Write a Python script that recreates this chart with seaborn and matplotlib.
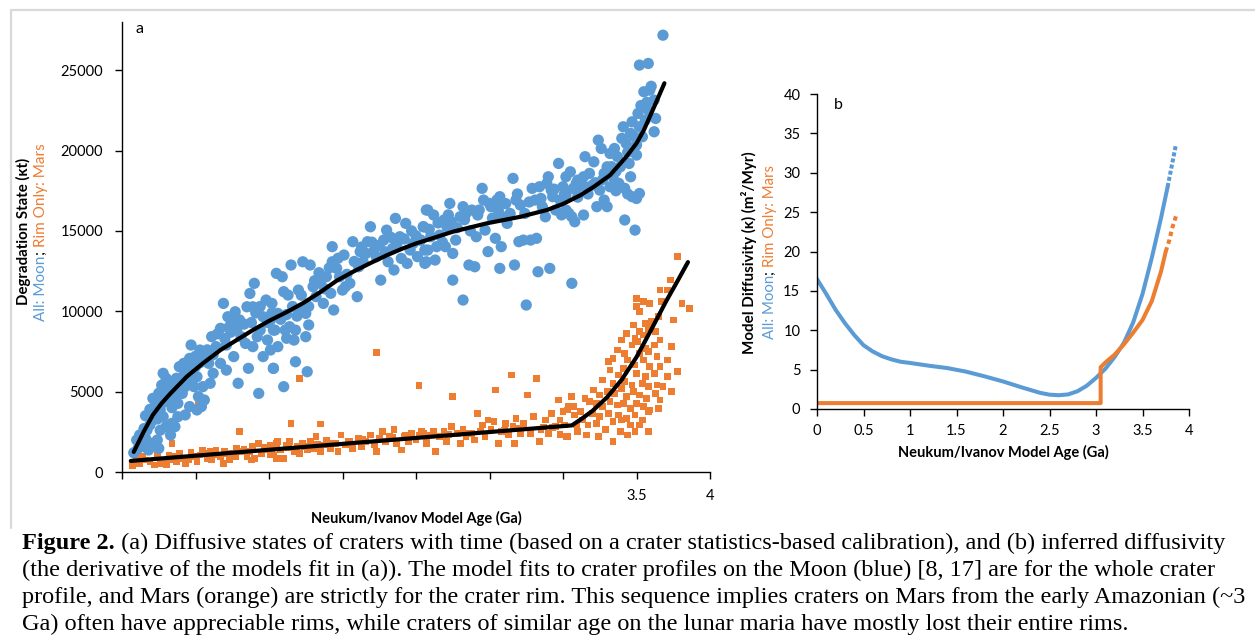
import numpy as np
import matplotlib
matplotlib.use("Agg")
import matplotlib.pyplot as plt
from matplotlib.lines import Line2D
import seaborn as sns

# ---------------- data ----------------
moon_age = [0.08, 0.11, 0.10, 0.13, 0.16, 0.18, 0.20, 0.24, 0.25, 0.17, 0.19, 0.21, 0.22, 0.21, 0.26, 0.28, 0.30, 0.33, 0.34, 0.27,
            0.29, 0.32, 0.33, 0.35, 0.37, 0.28, 0.30, 0.36, 0.38, 0.41, 0.43, 0.45, 0.39, 0.42, 0.44, 0.46, 0.50, 0.51, 0.49, 0.52,
            0.55, 0.56, 0.51, 0.54, 0.47, 0.53, 0.56, 0.59, 0.61, 0.64, 0.67, 0.69, 0.71, 0.73, 0.72, 0.77, 0.78, 0.80, 0.79, 0.81,
            0.84, 0.86, 0.85, 0.87, 0.89, 0.90, 0.93, 0.94, 0.96, 0.98, 0.99, 1.01, 1.03, 1.04, 1.05, 1.06, 0.96, 0.89, 0.92, 0.76,
            0.67, 0.62, 0.60, 0.71, 0.43, 0.46, 0.38, 0.36,
            0.23, 0.25, 0.27, 0.24, 0.31, 0.34, 0.40, 0.42, 0.38, 0.47, 0.50, 0.53, 0.58, 0.62, 0.65, 0.70, 0.74, 0.76, 0.83, 0.88,
            0.91, 0.94, 0.99, 1.02, 0.15, 0.12, 0.19, 0.16, 0.14, 0.26,
            1.02, 1.03, 1.01, 1.06, 1.03, 1.10, 1.11, 1.12, 1.14, 1.17, 1.18, 1.18, 1.26, 1.27, 1.25, 1.09, 1.10, 1.13, 1.15, 1.20,
            1.21, 1.23, 1.28, 1.25, 1.30, 1.32, 1.35, 1.37, 1.39, 1.42, 1.44, 1.43, 1.43, 1.46, 1.48, 1.51, 1.50, 1.52, 1.55, 1.57,
            1.60, 1.61, 1.62, 1.64, 1.67, 1.69, 1.71, 1.73, 1.76, 1.78, 1.80, 1.81, 1.84, 1.85, 1.86, 1.89, 1.90, 1.93, 1.94, 1.96,
            1.98, 2.01, 2.03, 2.05, 2.06, 2.07, 2.08,
            1.08, 1.12, 1.16, 1.19, 1.22, 1.27, 1.31, 1.34, 1.38, 1.41, 1.47, 1.53, 1.58, 1.63, 1.66, 1.70, 1.75, 1.79, 1.83, 1.87,
            1.92, 1.97, 2.00,
            2.03, 2.05, 2.06, 2.07, 2.08, 2.10, 2.12, 2.13, 2.14, 2.16, 2.19, 2.20, 2.21, 2.23, 2.24, 2.25, 2.27, 2.25, 2.30, 2.32,
            2.32, 2.34, 2.36, 2.38, 2.40, 2.41, 2.42, 2.45, 2.46, 2.47, 2.49, 2.50, 2.51, 2.54, 2.55, 2.57, 2.58, 2.57, 2.59, 2.62,
            2.64, 2.66, 2.67, 2.68, 2.70, 2.71, 2.73, 2.74, 2.75, 2.78, 2.79, 2.81, 2.82, 2.83, 2.84, 2.85, 2.88, 2.89, 2.90, 2.91,
            2.92, 2.93, 2.95, 2.97, 2.98, 3.00, 3.02, 3.04, 3.05, 3.06, 3.07, 3.08, 3.09, 3.10,
            2.09, 2.15, 2.18, 2.22, 2.28, 2.33, 2.37, 2.43, 2.52, 2.56, 2.61, 2.69, 2.77, 2.86, 2.94, 3.01, 2.99,
            3.68, 3.52, 3.58, 3.55, 3.59, 3.62, 3.58, 3.63, 3.51, 3.56, 3.52, 3.47, 3.41, 3.40, 3.46, 3.50, 3.54, 3.62, 3.43, 3.35,
            3.24, 3.26, 3.32, 3.37, 3.50, 3.45, 3.15, 3.21, 3.30, 3.39, 3.46, 3.34, 3.28, 3.18, 3.14, 3.02, 3.09, 3.15, 3.20, 3.25,
            3.32, 3.38, 3.42, 3.47, 3.52, 3.50, 3.28, 3.23, 3.30, 3.02, 3.06, 3.14, 3.42, 3.49,
            3.10, 3.17, 3.22, 3.27, 3.33, 3.36, 3.44, 3.48, 3.53, 3.57, 3.60, 3.44, 3.36]
moon_kt = [1200, 1470, 1990, 1790, 2100, 1370, 1790, 1990, 1470, 2610, 2930, 3240, 3750, 4580, 3860, 3440, 2820, 2300, 3030, 4270,
           4690, 5100, 5620, 5310, 5830, 6140, 5830, 4690, 4270, 4890, 5310, 5720, 6550, 6760, 6240, 7070, 6550, 5930, 5310, 4690,
           5310, 4480, 3860, 4070, 7900, 7590, 7180, 6760, 8420, 7800, 8940, 10490, 7900, 9040, 9660, 9970, 8830, 9460, 5520, 8420,
           8000, 6450, 10280, 11110, 10280, 11740, 4890, 8830, 9660, 10700, 8210, 9460, 6450, 8830, 12360, 9870, 7180, 7800, 8420, 7180,
           6760, 6140, 5520, 6340, 3550, 4070, 3440, 2820,
           4200, 4900, 5400, 3300, 4400, 4000, 5600, 6000, 5200, 6400, 7200, 6800, 7600, 7300, 8600, 8300, 8700, 9300, 9200, 9300,
           9900, 10300, 9300, 9900, 2700, 2300, 3900, 3500, 1600, 2600,
           10490, 8830, 7590, 7800, 6450, 5310, 8830, 8320, 9040, 8210, 8830, 6860, 6240, 9150, 8420, 12150, 11220, 11010, 12880, 11320,
           10080, 13080, 12880, 9870, 11530, 10910, 11740, 10490, 12150, 11120, 10080, 14020, 13080, 12670, 12150, 13500, 11320, 11530, 11740, 14330,
           10910, 12770, 13710, 13080, 14330, 15260, 13710, 13400, 11940, 14430, 15050, 13080, 13910, 12570, 15780, 14640, 13290, 15470, 12980, 13810,
           14220, 13400, 14430, 15260, 12980, 16300, 13810,
           9500, 9800, 10300, 9700, 11000, 10300, 11900, 12400, 11400, 12700, 13300, 12300, 13100, 14000, 13600, 14300, 14100, 13700, 14600, 14200,
           14500, 15000, 14700,
           14430, 15260, 13810, 13080, 16300, 14640, 15990, 13190, 14020, 14740, 15680, 14020, 15260, 16710, 15570, 13600, 14430, 11940, 15880, 16510,
           10700, 16090, 12880, 16300, 12770, 14640, 15990, 17650, 16920, 15050, 13710, 16710, 16510, 14540, 16920, 17130, 14020, 12670, 15880, 15470,
           16090, 18270, 12880, 16920, 14330, 16610, 14430, 16090, 10390, 14430, 17650, 16920, 14540, 12460, 17750, 17020, 15880, 17960, 18370, 12670,
           17540, 17130, 16300, 19200, 16920, 17750, 16300, 16090, 18680, 11740, 17650, 15570, 17540, 18160,
           15100, 15500, 14300, 16000, 15200, 15700, 15000, 16300, 15800, 16300, 16700, 17300, 16800, 16500, 17600, 17300, 16000,
           27180, 25320, 25420, 23660, 23760, 23140, 22520, 22000, 22310, 21900, 21480, 21790, 21480, 20760, 21070, 20340, 20860, 21170, 20440, 20130,
           20650, 20130, 19820, 19620, 19720, 19200, 19620, 19300, 18990, 18990, 18370, 18370, 18580, 18580, 18370, 18370, 17960, 17750, 17850, 17540,
           17750, 17960, 17650, 17130, 17330, 17020, 16920, 16510, 16510, 17230, 15880, 15990, 15680, 15050,
           17100, 17300, 18000, 18200, 19000, 18700, 19900, 20900, 22800, 23000, 24000, 17300, 17500]

mars_age = [0.07, 0.16, 0.22, 0.26, 0.30, 0.33, 0.36, 0.39, 0.43, 0.45, 0.49, 0.51, 0.55, 0.58, 0.61, 0.64, 0.67, 0.69, 0.71, 0.73,
            0.77, 0.78, 0.81, 0.85, 0.87, 0.89, 0.90, 0.93, 0.95, 0.98, 1.01, 1.03, 1.05, 1.06, 0.52, 0.80, 0.34, 0.12, 0.19, 0.28,
            0.37, 0.41, 0.53, 0.60, 0.75, 0.88, 1.02,
            0.10, 0.14, 0.24, 0.32, 0.47, 0.57, 0.63, 0.70, 0.83, 0.97,
            1.01, 1.03, 1.05, 1.08, 1.10, 1.12, 1.14, 1.17, 1.19, 1.21, 1.23, 1.26, 1.28, 1.30, 1.32, 1.35, 1.37, 1.39, 1.42, 1.45,
            1.47, 1.49, 1.52, 1.55, 1.57, 1.61, 1.63, 1.66, 1.69, 1.72, 1.73, 1.77, 1.79, 1.82, 1.85, 1.87, 1.90, 1.93, 1.95, 1.97,
            2.00, 2.04, 2.07, 1.21, 1.73, 2.02, 1.15, 1.35,
            1.13, 1.24, 1.33, 1.44, 1.54, 1.64, 1.75, 1.84, 1.92, 2.02,
            2.05, 2.07, 2.12, 2.13, 2.16, 2.19, 2.21, 2.24, 2.25, 2.28, 2.30, 2.32, 2.34, 2.38, 2.40, 2.42, 2.45, 2.47, 2.49, 2.51,
            2.53, 2.54, 2.56, 2.58, 2.61, 2.63, 2.65, 2.66, 2.67, 2.68, 2.71, 2.73, 2.76, 2.78, 2.80, 2.82, 2.84, 2.85, 2.88, 2.90,
            2.92, 2.95, 2.97, 2.98, 3.00, 3.02, 3.04, 3.06, 3.08, 3.09,
            2.10, 2.22, 2.36, 2.44, 2.60, 2.70, 2.87, 2.93,
            3.78, 3.73, 3.66, 3.71, 3.55, 3.59, 3.50, 3.52, 3.67, 3.81, 3.86, 3.75, 3.65, 3.60, 3.58, 3.56, 3.52, 3.49, 3.47, 3.51,
            3.55, 3.63, 3.66, 3.62, 3.58, 3.56, 3.52, 3.74, 3.37, 3.42, 3.31, 3.34, 3.44, 3.49, 3.55, 3.59, 3.64, 3.66, 3.71, 3.78,
            3.32, 3.38, 3.41, 3.50, 3.56, 3.62, 3.71, 3.27, 3.34, 3.42, 3.47, 3.54, 3.58, 3.64, 3.68, 3.74, 3.21, 3.25, 3.30, 3.35,
            3.40, 3.43, 3.48, 3.52, 3.57, 3.63, 3.66, 3.06, 3.07, 3.15, 3.18, 3.23, 3.27, 3.32, 3.37, 3.41, 3.46, 3.50, 3.55, 3.59,
            3.65, 3.03, 3.12, 3.20, 3.25, 3.31, 3.38, 3.43, 3.49, 3.54, 3.58, 2.98, 3.01, 3.13, 3.17, 3.23, 3.34, 3.40, 3.46, 3.52,
            3.03, 3.10, 3.16, 3.24, 3.29, 3.34, 3.39, 3.44, 3.49, 3.58, 3.50, 3.48, 3.43, 3.40]
mars_kt = [380, 750, 440, 540, 440, 750, 960, 1160, 540, 750, 960, 650, 1370, 850, 750, 1370, 960, 540, 1160, 750,
           960, 1470, 1270, 960, 1270, 1580, 850, 1790, 1160, 1370, 1060, 1580, 850, 1890, 4380, 2510, 1790, 540, 650, 750,
           650, 850, 1060, 1270, 1160, 750, 1270,
           900, 1000, 1100, 1050, 1200, 1150, 1100, 1300, 1400, 1500,
           1680, 1060, 1790, 1370, 850, 1680, 1890, 1270, 1580, 1160, 1790, 1370, 1890, 1470, 2200, 1270, 1680, 1990, 1470, 1790,
           1270, 2300, 1680, 1890, 1470, 2100, 1580, 1890, 2300, 1680, 1270, 2510, 1890, 2200, 2620, 1790, 1370, 2300, 1890, 2410,
           1990, 2510, 2100, 5830, 7420, 5370, 3030, 2990,
           1500, 1600, 1700, 1800, 1900, 2000, 2100, 2150, 2200, 2250,
           2410, 1790, 2510, 1270, 2200, 2510, 1890, 2820, 4690, 2410, 1790, 2620, 2200, 2410, 1990, 3650, 2930, 2200, 3240, 2620,
           3130, 5100, 1790, 2510, 3030, 2310, 6040, 2820, 1790, 3340, 2410, 3030, 4790, 2410, 3450, 5830, 1890, 2620, 3240, 2410,
           3650, 2820, 4480, 2310, 3760, 2200, 4070, 4690, 3550, 2930,
           2300, 2350, 2400, 2550, 2600, 2700, 2800, 2750,
           13400, 11950, 11320, 11320, 10600, 10490, 10290, 9980, 10600, 10490, 10180, 9460, 9660, 9350, 8940, 9250, 8730, 8320, 7900, 8110,
           8530, 8730, 8210, 7900, 7490, 7690, 7380, 7800, 7590, 7380, 6870, 7070, 6970, 6660, 6970, 6560, 7180, 6560, 6970, 6240,
           6350, 6040, 6450, 6140, 5930, 6140, 5930, 5730, 5520, 5620, 5410, 5520, 5310, 5410, 5310, 5000, 5100, 4790, 5000, 4900,
           5210, 4690, 5000, 4790, 4590, 4900, 4480, 4690, 4070, 4590, 4380, 4270, 4070, 4380, 4170, 4270, 3960, 4270, 4070, 3860,
           3960, 3860, 3760, 3650, 3450, 3650, 3550, 3340, 3550, 3240, 3760, 3240, 2930, 3240, 2930, 3030, 3130, 3240, 2930, 2930,
           2200, 2510, 2300, 2200, 2620, 1890, 2510, 2300, 2510, 2510, 10800, 9150, 8630, 8210]

moon_fit_age = [0.08, 0.15, 0.21, 0.27, 0.33, 0.44, 0.55, 0.67, 0.78, 0.89, 1.00, 1.12, 1.23, 1.35, 1.46, 1.58, 1.69, 1.80,
                1.91, 2.00, 2.09, 2.25, 2.48, 2.71, 2.89, 3.00, 3.12, 3.21, 3.32, 3.43, 3.50, 3.55, 3.62, 3.69]
moon_fit_kt = [1250, 2550, 3550, 4280, 4890, 5930, 6760, 7590, 8210, 8830, 9400, 9950, 10500, 11200, 11900, 12500, 13000, 13480,
               13910, 14220, 14480, 14950, 15470, 15880, 16300, 16680, 17230, 17750, 18470, 19610, 20450, 21270, 22720, 24190]
mars_fit_age = [0.06, 3.06, 3.13, 3.20, 3.30, 3.40, 3.50, 3.60, 3.70, 3.78, 3.85]
mars_fit_kt = [690, 2900, 3330, 3800, 4650, 5750, 7150, 8850, 10600, 11900, 13060]

moon_kappa_age = [0, 0.1, 0.2, 0.3, 0.4, 0.5, 0.6, 0.7, 0.8, 0.9, 1.0, 1.2, 1.4, 1.6, 1.8, 2.0, 2.2, 2.4, 2.5, 2.6,
                  2.7, 2.8, 2.9, 3.0, 3.1, 3.2, 3.3, 3.4, 3.5, 3.6, 3.7, 3.77]
moon_kappa = [16.5, 14.6, 12.6, 10.9, 9.4, 8.1, 7.3, 6.7, 6.3, 6.0, 5.85, 5.5, 5.2, 4.75, 4.15, 3.5, 2.75, 2.05, 1.82, 1.75,
              1.85, 2.25, 2.95, 3.95, 5.1, 6.6, 8.4, 11.0, 14.6, 19.2, 24.3, 28.2]
moon_kappa_tail_age = [3.77, 3.80, 3.83, 3.86]
moon_kappa_tail = [28.2, 30.0, 31.8, 33.6]
mars_kappa_age = [0, 3.05, 3.05, 3.1, 3.2, 3.3, 3.4, 3.5, 3.6, 3.7, 3.75]
mars_kappa = [0.75, 0.75, 5.3, 5.9, 6.9, 8.2, 9.7, 11.3, 13.7, 17.5, 20.0]
mars_kappa_tail_age = [3.75, 3.79, 3.82, 3.86]
mars_kappa_tail = [20.0, 21.5, 23.0, 24.5]

a_xticks = [0, 0.5, 1, 1.5, 2, 2.5, 3, 3.5, 4]
a_xticklabels = ["", "", "", "", "", "", "", "3.5", "4"]
a_yticks = [0, 5000, 10000, 15000, 20000, 25000]
b_xticks = [0, 0.5, 1, 1.5, 2, 2.5, 3, 3.5, 4]
b_xticklabels = ["0", "0.5", "1", "1.5", "2", "2.5", "3", "3.5", "4"]
b_yticks = [0, 5, 10, 15, 20, 25, 30, 35, 40]

xlabel = "Neukum/Ivanov Model Age (Ga)"
a_ylabel1 = "Degradation State (\u03bat)"
b_ylabel1 = "Model Diffusivity (\u03ba) (m\u00b2/Myr)"
ylabel2_parts = ["All: Moon", "; ", "Rim Only: Mars"]

caption_bold = "Figure 2."
caption_lines = [
    " (a) Diffusive states of craters with time (based on a crater statistics-based calibration), and (b) inferred diffusivity",
    "(the derivative of the models fit in (a)). The model fits to crater profiles on the Moon (blue) [8, 17] are for the whole crater",
    "profile, and Mars (orange) are strictly for the crater rim. This sequence implies craters on Mars from the early Amazonian (~3",
    "Ga) often have appreciable rims, while craters of similar age on the lunar maria have mostly lost their entire rims.",
]

BLUE = "#5B9BD5"
ORANGE = "#ED7D31"

# ---------------- style ----------------
sns.set_theme(style="white")
plt.rcParams["font.family"] = ["Lato", "DejaVu Sans"]
plt.rcParams["axes.unicode_minus"] = False

W, H = 1255, 640
fig = plt.figure(figsize=(W / 100, H / 100), dpi=100)
fig.patch.set_facecolor("white")


def fx(px):
    return px / W


def fy(py):
    return 1 - py / H


# light grey frame of the figure image
fig.add_artist(Line2D([fx(11), fx(11)], [fy(10), fy(528)], color="#D9D9D9", lw=1.6))
fig.add_artist(Line2D([fx(11), fx(1255)], [fy(10), fy(10)], color="#D9D9D9", lw=1.6))

axa = fig.add_axes([fx(122), fy(472), fx(710) - fx(122), fy(22) - fy(472)])
axb = fig.add_axes([fx(817), fy(409), fx(1189) - fx(817), fy(94) - fy(409)])

# ---------------- panel a ----------------
sns.scatterplot(x=mars_age, y=mars_kt, marker="s", s=24, color=ORANGE, edgecolor="none",
                linewidth=0, ax=axa, zorder=2)
sns.scatterplot(x=moon_age, y=moon_kt, marker="o", s=66, color=BLUE, edgecolor="none",
                linewidth=0, ax=axa, zorder=3)
sns.lineplot(x=moon_fit_age, y=moon_fit_kt, sort=False, estimator=None, color="black", lw=3.0, ax=axa, zorder=4)
sns.lineplot(x=mars_fit_age, y=mars_fit_kt, sort=False, estimator=None, color="black", lw=3.0, ax=axa, zorder=4)

axa.set_xlim(0, 4)
axa.set_ylim(0, 28000)
axa.set_xticks(a_xticks)
axa.set_xticklabels(a_xticklabels)
axa.set_yticks(a_yticks)
axa.set_yticklabels([str(v) for v in a_yticks])

# ---------------- panel b ----------------
sns.lineplot(x=moon_kappa_age, y=moon_kappa, sort=False, estimator=None, color=BLUE, lw=2.9, ax=axb)
sns.lineplot(x=moon_kappa_tail_age, y=moon_kappa_tail, sort=False, estimator=None, color=BLUE, lw=2.9,
             linestyle=(0, (1.0, 0.55)), dash_capstyle="butt", ax=axb)
sns.lineplot(x=mars_kappa_age, y=mars_kappa, sort=False, estimator=None, color=ORANGE, lw=2.9, ax=axb)
sns.lineplot(x=mars_kappa_tail_age, y=mars_kappa_tail, sort=False, estimator=None, color=ORANGE, lw=2.9,
             linestyle=(0, (1.1, 0.9)), dash_capstyle="butt", ax=axb)
axb.set_xlim(0, 4)
axb.set_ylim(0, 40)
axb.set_xticks(b_xticks)
axb.set_xticklabels(b_xticklabels)
axb.set_yticks(b_yticks)
axb.set_yticklabels([str(v) for v in b_yticks])

for ax, xpad, ypad in ((axa, 7, 8.5), (axb, 6, 7)):
    for side in ("top", "right"):
        ax.spines[side].set_visible(False)
    for side in ("left", "bottom"):
        ax.spines[side].set_color("black")
        ax.spines[side].set_linewidth(1.0)
    ax.tick_params(axis="both", which="major", direction="out", length=5, width=1.0,
                   color="black", labelsize=10.5, labelcolor="black", bottom=True, left=True)
    ax.tick_params(axis="x", pad=xpad)
    ax.tick_params(axis="y", pad=ypad)
    ax.set_facecolor("white")
    ax.grid(False)

axa.set_xlabel(xlabel, fontsize=10.5, fontweight="bold", color="black")
axa.xaxis.set_label_coords(0.5, -46 / 450)
axa.xaxis.label.set_va("center")
axb.set_xlabel(xlabel, fontsize=10.5, fontweight="bold", color="black")
axb.xaxis.set_label_coords(0.5, -43 / 315)
axb.xaxis.label.set_va("center")
axa.set_ylabel("")
axb.set_ylabel("")

fig.text(fx(136), fy(29), "a", fontsize=11.5, color="black", va="center", ha="left")
fig.text(fx(834), fy(105), "b", fontsize=11.5, color="black", va="center", ha="left")

# ---------------- y labels (two lines, second multicolour) ----------------
fig.canvas.draw()
renderer = fig.canvas.get_renderer()


def rotated_parts(x_px, yc_px, parts, colors, length_px, fs0=10.5, **kw):
    texts = [fig.text(0, 0, s, color=c, rotation=90, ha="center", va="bottom", fontsize=fs0, **kw)
             for s, c in zip(parts, colors)]
    total = sum(t.get_window_extent(renderer).height for t in texts)
    fs = fs0 * length_px / total
    for t in texts:
        t.set_fontsize(fs)
    heights = [t.get_window_extent(renderer).height for t in texts]
    y0 = (H - yc_px) - sum(heights) / 2
    for t, h in zip(texts, heights):
        t.set_position((fx(x_px), y0 / H))
        y0 += h


rotated_parts(23, 231, [a_ylabel1], ["black"], 148, fontweight="bold")
rotated_parts(41, 232, ylabel2_parts, [BLUE, "black", ORANGE], 177)
rotated_parts(749, 253, [b_ylabel1], ["black"], 203, fontweight="bold")
rotated_parts(770, 252, ylabel2_parts, [BLUE, "black", ORANGE], 175)

# ---------------- caption ----------------
cap_kw = dict(family=["Liberation Serif", "DejaVu Serif"], color="black", va="center", ha="left")
fs = 16
tb = fig.text(fx(22), fy(543), caption_bold, fontsize=fs, fontweight="bold", **cap_kw)
t1 = fig.text(0, fy(543), caption_lines[0], fontsize=fs, **cap_kw)
others = [fig.text(fx(22), fy(570 + 27 * i), line, fontsize=fs, **cap_kw)
          for i, line in enumerate(caption_lines[1:])]
widths = [tb.get_window_extent(renderer).width + t1.get_window_extent(renderer).width]
widths += [t.get_window_extent(renderer).width for t in others]
fs = fs * 1220 / max(widths)
for t in [tb, t1] + others:
    t.set_fontsize(fs)
wb = tb.get_window_extent(renderer).width
t1.set_position((fx(22 + wb), fy(543)))

fig.savefig("out.png", dpi=100, facecolor="white")
